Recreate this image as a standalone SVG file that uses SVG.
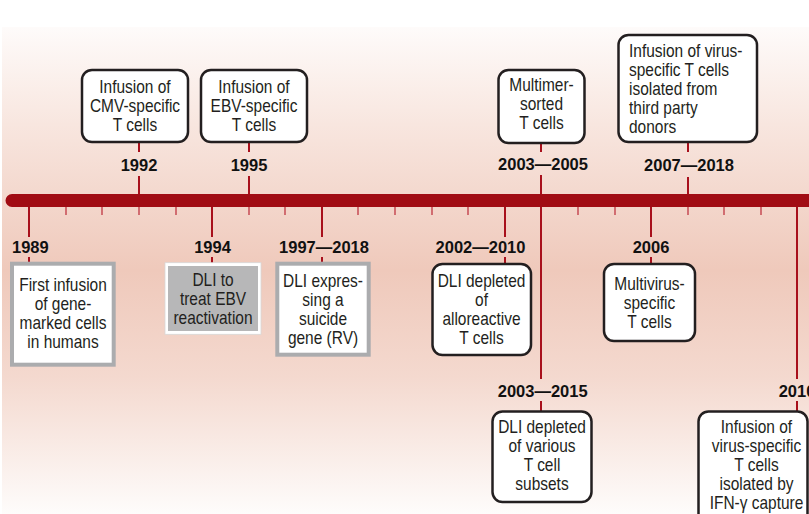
<svg xmlns="http://www.w3.org/2000/svg" width="809" height="514" viewBox="0 0 809 514">
<defs>
<linearGradient id="bg" gradientUnits="userSpaceOnUse" x1="0" y1="27" x2="0" y2="514">
<stop offset="0" stop-color="#fefbfa"/>
<stop offset="0.2" stop-color="#f8e6df"/>
<stop offset="0.5" stop-color="#efc9bb"/>
<stop offset="0.72" stop-color="#f4d9cf"/>
<stop offset="1" stop-color="#fefcfb"/>
</linearGradient>
<style>
.box{fill:#fff;stroke:#231f20;stroke-width:2.5}
.gbox{fill:#fff;stroke:#abacae;stroke-width:4}
.t{font-family:"Liberation Sans","Arial",sans-serif;font-size:18px;fill:#231f20;text-anchor:middle}
.tl{text-anchor:start}
.yr{font-family:"Liberation Sans","Arial",sans-serif;font-weight:bold;font-size:16.5px;fill:#111;text-anchor:middle}
.ev{stroke:#a8101c;stroke-width:2;fill:none}
.tk{stroke:#c9535b;stroke-width:1.6;fill:none}
</style>
</defs>
<rect x="0" y="0" width="809" height="514" fill="#fff"/>
<rect x="2" y="27" width="807" height="487" fill="url(#bg)"/>

<g id="connectors">
<path class="tk" d="M66 206V215M102 206V215M176 206V215M249 206V215M285 206V215M358 206V215M395 206V215M432 206V215M468 206V215M578 206V215M615 206V215M688 206V215M724 206V215M761 206V215M139 206V215"/>
<path class="ev" d="M139 143V152M139 176V195M249 143V152M249 176V195M541 144V152M541 175V195M688 143V152M688 177V195"/>
<path class="ev" d="M29 206V237M29 257V263M212 206V237M212 257V263M322 206V237M322 257V263M505 206V237M505 257V264M651 206V237M651 257V264M541 206V379M541 401V411M797 206V379M797 401V411"/>
</g>
<g id="timeline">
<path d="M12 194H809V207H12A6.5 6.5 0 0 1 12 194Z" fill="#a10c14"/>
</g>

<g id="n1992">
<rect class="box" x="82" y="70" width="106" height="72" rx="10"/>
<g transform="translate(135 0) scale(0.86 1)">
<text class="t" x="0" y="93">Infusion of</text>
<text class="t" x="0" y="112">CMV-specific</text>
<text class="t" x="0" y="131">T cells</text>
</g>
<text class="yr" x="139" y="171">1992</text>
</g>
<g id="n1995">
<rect class="box" x="201" y="70" width="106" height="72" rx="10"/>
<g transform="translate(254 0) scale(0.86 1)">
<text class="t" x="0" y="93">Infusion of</text>
<text class="t" x="0" y="112">EBV-specific</text>
<text class="t" x="0" y="131">T cells</text>
</g>
<text class="yr" x="249" y="171">1995</text>
</g>
<g id="n2003a">
<rect class="box" x="498.5" y="70" width="86" height="73" rx="10"/>
<g transform="translate(541.5 0) scale(0.86 1)">
<text class="t" x="0" y="91">Multimer-</text>
<text class="t" x="0" y="110">sorted</text>
<text class="t" x="0" y="129">T cells</text>
</g>
<text class="yr" x="543" y="170">2003—2005</text>
</g>
<g id="n2007">
<rect class="box" x="618.5" y="35" width="138.5" height="107" rx="10"/>
<g transform="translate(629 0) scale(0.86 1)">
<text class="t tl" x="0" y="57">Infusion of virus-</text>
<text class="t tl" x="0" y="76">specific T cells</text>
<text class="t tl" x="0" y="95">isolated from</text>
<text class="t tl" x="0" y="114">third party</text>
<text class="t tl" x="0" y="133">donors</text>
</g>
<text class="yr" x="689" y="171">2007—2018</text>
</g>

<g id="n1989">
<text class="yr" x="12" y="253" style="text-anchor:start">1989</text>
<rect class="gbox" x="12" y="263.7" width="101.7" height="101"/>
<g transform="translate(63 0) scale(0.86 1)">
<text class="t" x="0" y="291">First infusion</text>
<text class="t" x="0" y="310">of gene-</text>
<text class="t" x="0" y="329">marked cells</text>
<text class="t" x="0" y="348">in humans</text>
</g>
</g>
<g id="n1994">
<text class="yr" x="212.5" y="253">1994</text>
<rect x="165" y="262.7" width="96" height="71.6" fill="#fff" stroke="#d8d8d8" stroke-width="0.8"/>
<rect x="168" y="266" width="90" height="65" fill="#b7b7b8"/>
<g transform="translate(213 0) scale(0.86 1)">
<text class="t" x="0" y="286">DLI to</text>
<text class="t" x="0" y="305">treat EBV</text>
<text class="t" x="0" y="324">reactivation</text>
</g>
</g>
<g id="n1997">
<text class="yr" x="324" y="253">1997—2018</text>
<rect class="gbox" x="277.3" y="263.7" width="91.4" height="91"/>
<g transform="translate(323 0) scale(0.86 1)">
<text class="t" x="0" y="287">DLI expres-</text>
<text class="t" x="0" y="306">sing a</text>
<text class="t" x="0" y="325">suicide</text>
<text class="t" x="0" y="344">gene (RV)</text>
</g>
</g>
<g id="n2002">
<text class="yr" x="480.5" y="253">2002—2010</text>
<rect class="box" x="432.5" y="264" width="98.5" height="91" rx="10"/>
<g transform="translate(481.5 0) scale(0.86 1)">
<text class="t" x="0" y="287">DLI depleted</text>
<text class="t" x="0" y="306">of</text>
<text class="t" x="0" y="325">alloreactive</text>
<text class="t" x="0" y="344">T cells</text>
</g>
</g>
<g id="n2006">
<text class="yr" x="651" y="253">2006</text>
<rect class="box" x="604" y="264" width="91" height="77" rx="10"/>
<g transform="translate(649.5 0) scale(0.86 1)">
<text class="t" x="0" y="290">Multivirus-</text>
<text class="t" x="0" y="309">specific</text>
<text class="t" x="0" y="328">T cells</text>
</g>
</g>
<g id="n2003b">
<text class="yr" x="542.7" y="397">2003—2015</text>
<rect class="box" x="492.5" y="411.5" width="99" height="90.5" rx="10"/>
<g transform="translate(542 0) scale(0.86 1)">
<text class="t" x="0" y="433">DLI depleted</text>
<text class="t" x="0" y="452">of various</text>
<text class="t" x="0" y="471">T cell</text>
<text class="t" x="0" y="490">subsets</text>
</g>
</g>
<g id="n2010">
<text class="yr" x="797" y="397">2010</text>
<rect class="box" x="698.5" y="411.5" width="109" height="120" rx="10"/>
<g transform="translate(756.5 0) scale(0.86 1)">
<text class="t" x="0" y="433">Infusion of</text>
<text class="t" x="0" y="452">virus-specific</text>
<text class="t" x="0" y="471">T cells</text>
<text class="t" x="0" y="490">isolated by</text>
<text class="t" x="0" y="509">IFN-γ capture</text>
</g>
</g>
</svg>
